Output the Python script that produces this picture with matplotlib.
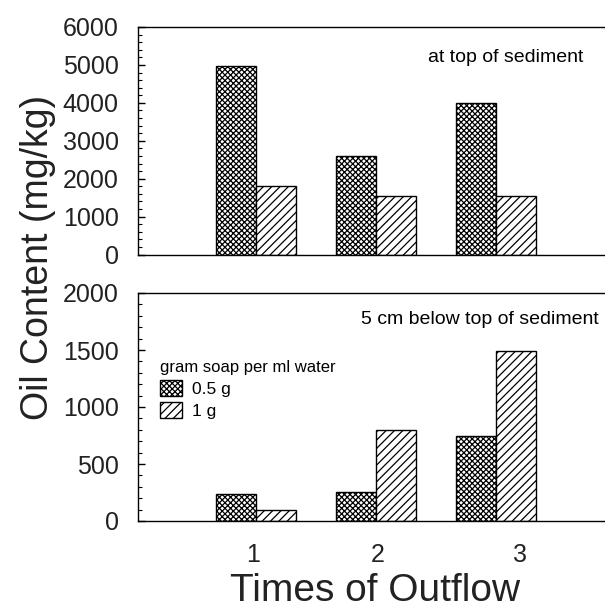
# oil content bar chart, two panels
import numpy as np
import matplotlib
matplotlib.use("Agg")
import matplotlib.pyplot as plt
from matplotlib.ticker import MultipleLocator

# data
outflow = [1, 2, 3]
outflow_labels = ["1", "2", "3"]
top_05g = [4970, 2610, 4000]   # at top of sediment, 0.5 g
top_1g = [1800, 1540, 1550]    # at top of sediment, 1 g
low_05g = [240, 255, 750]      # 5 cm below, 0.5 g
low_1g = [95, 800, 1490]       # 5 cm below, 1 g
series_labels = ["0.5 g", "1 g"]

plt.rcParams["font.family"] = ["Liberation Sans", "DejaVu Sans"]
plt.rcParams["hatch.linewidth"] = 0.9

fig = plt.figure(figsize=(6.05, 6.08), dpi=100)
W, H = 605, 608

def px_axes(x0, y0, x1, y1):
    # pixel box (top-left origin) -> axes
    return fig.add_axes([x0 / W, 1 - y1 / H, (x1 - x0) / W, (y1 - y0) / H])

ax1 = px_axes(138, 27, 606, 254.5)
ax2 = px_axes(138, 293, 606, 521)

x = np.array(outflow, dtype=float)
bw = 1 / 3

def draw(ax, a, b):
    bars_a = ax.bar(x - bw / 2, a, bw, color="white", edgecolor="black",
                    hatch="xxxxxx", linewidth=1.0, label=series_labels[0])
    bars_b = ax.bar(x + bw / 2, b, bw, color="white", edgecolor="black",
                    hatch="////", linewidth=1.0, label=series_labels[1])
    ax.set_xlim(0.017, 3.92)
    ax.spines["right"].set_visible(False)
    for s in ["top", "left", "bottom"]:
        ax.spines[s].set_linewidth(1.0)
    ax.tick_params(axis="y", which="major", direction="in", length=5,
                   width=1, pad=14, labelsize=18, labelcolor="#222222")
    ax.tick_params(axis="y", which="minor", direction="in", length=3, width=0.8)
    ax.tick_params(axis="x", length=0, pad=16, labelsize=18, labelcolor="#222222")
    return bars_a, bars_b

draw(ax1, top_05g, top_1g)
ax1.set_ylim(0, 6000)
ax1.yaxis.set_major_locator(MultipleLocator(1000))
ax1.yaxis.set_minor_locator(MultipleLocator(200))
ax1.set_xticks([])
ax1.text(0.951, 0.868, "at top of sediment", transform=ax1.transAxes,
         ha="right", va="center", fontsize=14)

bars = draw(ax2, low_05g, low_1g)
ax2.set_ylim(0, 2000)
ax2.yaxis.set_major_locator(MultipleLocator(500))
ax2.yaxis.set_minor_locator(MultipleLocator(100))
ax2.set_xticks([0.975, 2.02, 3.2])
ax2.set_xticklabels(outflow_labels)
ax2.text(0.985, 0.882, "5 cm below top of sediment", transform=ax2.transAxes,
         ha="right", va="center", fontsize=14)

leg = ax2.legend(handles=list(bars), title="gram soap per ml water",
                 loc="upper left", bbox_to_anchor=(0.047, 0.705),
                 frameon=False, borderpad=0, borderaxespad=0,
                 handlelength=1.25, handleheight=1.0, handletextpad=0.6,
                 labelspacing=0.3, alignment="left",
                 prop={"size": 12.5}, title_fontproperties={"size": 12})

fig.text(375 / W, 1 - 591 / H, "Times of Outflow", ha="center", va="center",
         fontsize=28, color="#222222")
fig.text(38 / W, 1 - 257 / H, "Oil Content (mg/kg)", ha="center", va="center",
         rotation=90, fontsize=27, color="#222222")

fig.savefig("out.png", dpi=100)
